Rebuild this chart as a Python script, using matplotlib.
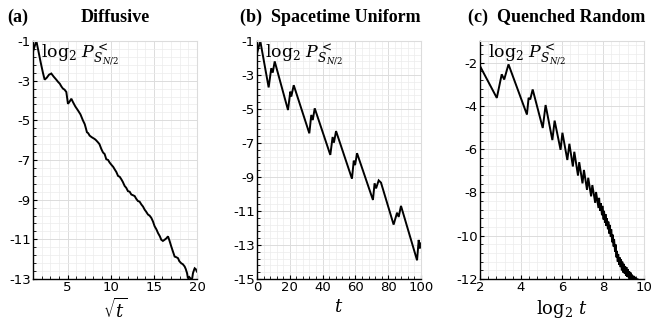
import numpy as np
import matplotlib.pyplot as plt
from matplotlib.ticker import AutoMinorLocator, MultipleLocator

plt.rcParams['mathtext.fontset'] = 'dejavuserif'

# ==========================================
# Data
# ==========================================
# (a) Diffusive: log2 P vs sqrt(t)
sqrt_t = [1.0, 1.2, 1.39, 1.6, 1.9, 2.15, 2.35, 2.6, 2.85, 3.12, 3.4, 3.7, 3.9,
          4.1, 4.3, 4.47, 4.65, 4.86, 5.05, 5.25, 5.44, 5.63, 5.9, 6.21, 6.5,
          6.79, 7.0, 7.25, 7.4, 7.56, 7.8, 8.14, 8.3, 8.53, 8.7, 8.92, 9.11,
          9.3, 9.49, 9.7, 9.88, 10.1, 10.3, 10.46, 10.65, 10.85, 11.05, 11.23,
          11.4, 11.62, 11.8, 12.0, 12.2, 12.39, 12.6, 12.78, 12.95, 13.16,
          13.35, 13.55, 13.75, 13.93, 14.1, 14.32, 14.5, 14.71, 14.9, 15.09,
          15.3, 15.48, 15.7, 15.86, 16.05, 16.25, 16.45, 16.64, 16.8, 17.02,
          17.2, 17.41, 17.6, 17.8, 17.95, 18.18, 18.35, 18.57, 18.7, 18.85,
          18.95, 19.1, 19.34, 19.45, 19.53, 19.65, 19.73, 19.85, 20.0]
logp_a = [-1.54, -1.25, -1.0, -1.45, -2.1, -2.6, -2.95, -2.85, -2.7, -2.64,
          -2.8, -2.95, -3.06, -3.15, -3.3, -3.4, -3.45, -3.57, -4.17, -4.05,
          -3.91, -4.08, -4.3, -4.5, -4.7, -5.01, -5.2, -5.6, -5.65, -5.77,
          -5.85, -5.94, -6.0, -6.11, -6.2, -6.45, -6.62, -6.7, -6.96, -7.0,
          -7.13, -7.25, -7.35, -7.47, -7.6, -7.8, -7.85, -7.97, -8.1, -8.31,
          -8.4, -8.57, -8.6, -8.74, -8.78, -8.82, -8.95, -9.07, -9.1, -9.24,
          -9.35, -9.5, -9.6, -9.75, -9.8, -9.92, -10.1, -10.34, -10.5, -10.68,
          -10.85, -11.02, -11.08, -11.02, -10.95, -10.85, -11.05, -11.36,
          -11.6, -11.87, -11.9, -11.95, -12.1, -12.21, -12.25, -12.37, -12.5,
          -12.71, -12.97, -12.9, -13.02, -12.95, -12.71, -12.55, -12.46,
          -12.5, -12.63]

# (b) Spacetime Uniform: log2 P vs t
t_b = [0, 2, 7.1, 8.7, 9.6, 10.8, 18.9, 20.3, 20.9, 22.4, 31.9, 33.1, 34.0,
       35.2, 44.7, 46.1, 46.9, 48.2, 57.9, 59.0, 59.8, 61.0, 70.7, 71.7, 72.6,
       74.2, 75.6, 83.3, 85.4, 86.4, 87.8, 97.6, 98.6, 99.2, 100]
logp_b = [-1.73, -1.0, -3.73, -2.6, -2.86, -2.2, -5.06, -3.98, -4.27, -3.6,
          -6.43, -5.35, -5.65, -4.96, -7.7, -6.65, -6.98, -6.3, -9.1, -8.04,
          -8.3, -7.6, -10.35, -9.37, -9.67, -9.2, -9.33, -11.8, -11.1, -11.35,
          -10.7, -13.9, -12.7, -13.2, -12.9]

# (c) Quenched Random: log2 P vs log2 t
log2_t = [2.0, 2.82, 3.06, 3.18, 3.39, 4.29, 4.37, 4.45, 4.57, 5.06, 5.2,
          5.53, 5.64, 5.93, 6.02, 6.26, 6.36, 6.53, 6.6, 6.78, 6.84, 7.0,
          7.07, 7.22, 7.28, 7.42, 7.48, 7.62, 7.66, 7.78, 7.81, 7.86, 7.89,
          7.95, 7.97, 8.03, 8.05, 8.1, 8.12, 8.17, 8.19, 8.24, 8.26, 8.31,
          8.33, 8.38, 8.4, 8.45, 8.47, 8.52, 8.54, 8.59, 8.61, 8.66, 8.68,
          8.72, 8.74, 8.79, 8.81, 8.86, 8.88, 8.92, 8.94, 8.99, 9.01, 9.06,
          9.08, 9.12, 9.14, 9.19, 9.21, 9.26, 9.28, 9.32, 9.34, 9.39, 9.41,
          9.46, 9.48, 9.53, 9.55, 9.6, 9.62, 9.67, 9.7, 9.75]
logp_c = [-2.16, -3.63, -2.54, -2.78, -2.08, -4.4, -3.63, -3.7, -3.24, -5.02,
          -3.96, -5.58, -4.68, -6.03, -5.24, -6.5, -5.75, -6.8, -6.12, -7.22,
          -6.6, -7.58, -6.96, -7.88, -7.32, -8.18, -7.66, -8.48, -7.98, -8.72,
          -8.25, -8.85, -8.5, -9.05, -8.62, -9.25, -8.85, -9.4, -9.0, -9.55,
          -9.2, -9.7, -9.35, -9.9, -9.5, -10.05, -9.7, -10.3, -9.95, -10.5,
          -10.15, -10.75, -10.4, -11.0, -10.7, -11.2, -10.85, -11.35, -11.0,
          -11.45, -11.1, -11.6, -11.2, -11.7, -11.3, -11.75, -11.4, -11.85,
          -11.45, -11.9, -11.55, -11.95, -11.65, -12.0, -11.7, -12.05, -11.8,
          -12.1, -11.85, -12.1, -11.9, -12.15, -11.95, -12.15, -12.0, -12.1]

panels = [
    dict(x=sqrt_t, y=logp_a, xlim=(1, 20), ylim=(-13, -1), xmaj=5,
         yticks=[-1, -3, -5, -7, -9, -11, -13], xlabel=r'$\sqrt{t}$', left=33),
    dict(x=t_b, y=logp_b, xlim=(0, 100), ylim=(-15, -1), xmaj=20,
         yticks=[-1, -3, -5, -7, -9, -11, -13, -15], xlabel=r'$t$', left=257),
    dict(x=log2_t, y=logp_c, xlim=(2, 10), ylim=(-12, -1), xmaj=2,
         yticks=[-2, -4, -6, -8, -10, -12], xlabel=r'$\log_2\,t$', left=480),
]

W, H = 652, 324
fig = plt.figure(figsize=(W / 100, H / 100), dpi=100)

for p in panels:
    ax = fig.add_axes([p['left'] / W, 1 - 279 / H, 164 / W, 238 / H])
    ax.plot(p['x'], p['y'], color='black', lw=1.4, solid_joinstyle='miter')
    ax.set_xlim(*p['xlim'])
    ax.set_ylim(*p['ylim'])
    ax.xaxis.set_major_locator(MultipleLocator(p['xmaj']))
    ax.set_yticks(p['yticks'])
    ax.set_yticklabels([str(v) for v in p['yticks']])
    ax.xaxis.set_minor_locator(AutoMinorLocator(5))
    ax.yaxis.set_minor_locator(AutoMinorLocator(5))
    ax.grid(True, which='major', color='#dcdcdc', lw=0.7)
    ax.grid(True, which='minor', color='#ececec', lw=0.5)
    ax.set_axisbelow(True)
    ax.tick_params(which='both', direction='in', labelsize=9.5, pad=1.5,
                   top=False, right=False)
    ax.tick_params(which='major', length=3, width=0.8)
    ax.tick_params(which='minor', length=2, width=0.6)
    for s in ['top', 'right']:
        ax.spines[s].set_color('#dcdcdc')
    for s in ['left', 'bottom']:
        ax.spines[s].set_linewidth(1.0)
    ax.text(0.05, 0.995, r'$\log_2\,P^{<}_{S_{N/2}}$', transform=ax.transAxes,
            ha='left', va='top', fontsize=12.5)
    ax.set_xlabel(p['xlabel'], fontsize=13, labelpad=3)

title_kw = dict(family='Liberation Serif', weight='bold', fontsize=13, va='center')
fig.text(7 / W, 1 - 17 / H, '(a)', ha='left', **title_kw)
fig.text(115 / W, 1 - 17 / H, 'Diffusive', ha='center', **title_kw)
fig.text(421 / W, 1 - 17 / H, '(b)  Spacetime Uniform', ha='right', **title_kw)
fig.text(645 / W, 1 - 17 / H, '(c)  Quenched Random', ha='right', **title_kw)

fig.savefig('out.png', dpi=100)
